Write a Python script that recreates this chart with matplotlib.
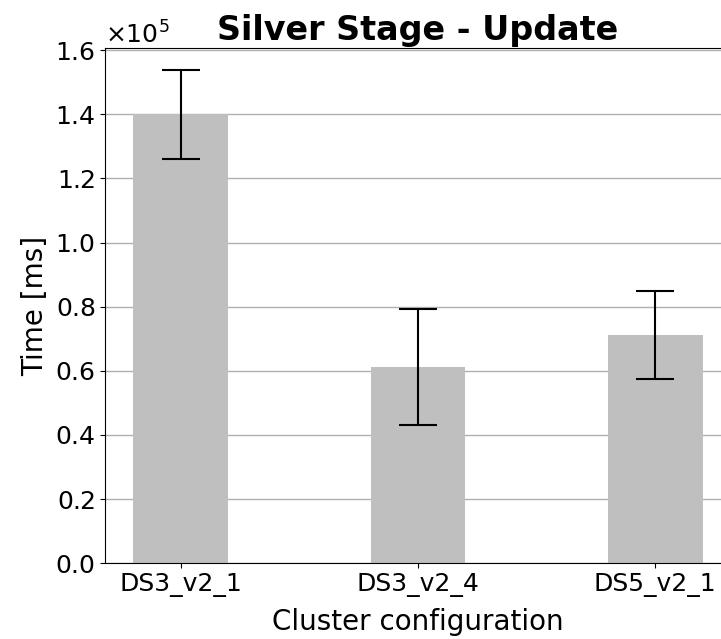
import matplotlib
matplotlib.use("Agg")
import matplotlib.pyplot as plt
import numpy as np

categories = ["DS3_v2_1", "DS3_v2_4", "DS5_v2_1"]
means = [1.400e5, 0.611e5, 0.711e5]
errors = [0.138e5, 0.181e5, 0.137e5]

fig = plt.figure(figsize=(7.21, 6.39), dpi=100)
ax = fig.add_axes([105/721, (639-563.2)/639, (731-105)/721, (563.2-48)/639])
x = np.arange(len(categories))
ax.bar(x, means, width=0.4, color="#bfbfbf", zorder=2)
ax.errorbar(x, means, yerr=errors, fmt="none", ecolor="black", elinewidth=1.5,
            capsize=13.5, capthick=1.5, zorder=3)
ax.set_xlim(-0.32, 2.32)
ax.set_ylim(0, 1.607e5)
ax.set_xticks(x)
ax.set_xticklabels(categories)
ax.yaxis.grid(True, color="#b0b0b0", linewidth=1)
ax.set_axisbelow(True)
ax.ticklabel_format(axis="y", style="sci", scilimits=(0, 0), useMathText=True)
ax.tick_params(labelsize=18)
ax.yaxis.get_offset_text().set_fontsize(18)
ax.set_xlabel("Cluster configuration", fontsize=20, labelpad=8)
ax.set_ylabel("Time [ms]", fontsize=20)
ax.set_title("Silver Stage - Update", fontsize=24, fontweight="bold")
fig.savefig("out.png", dpi=100)
